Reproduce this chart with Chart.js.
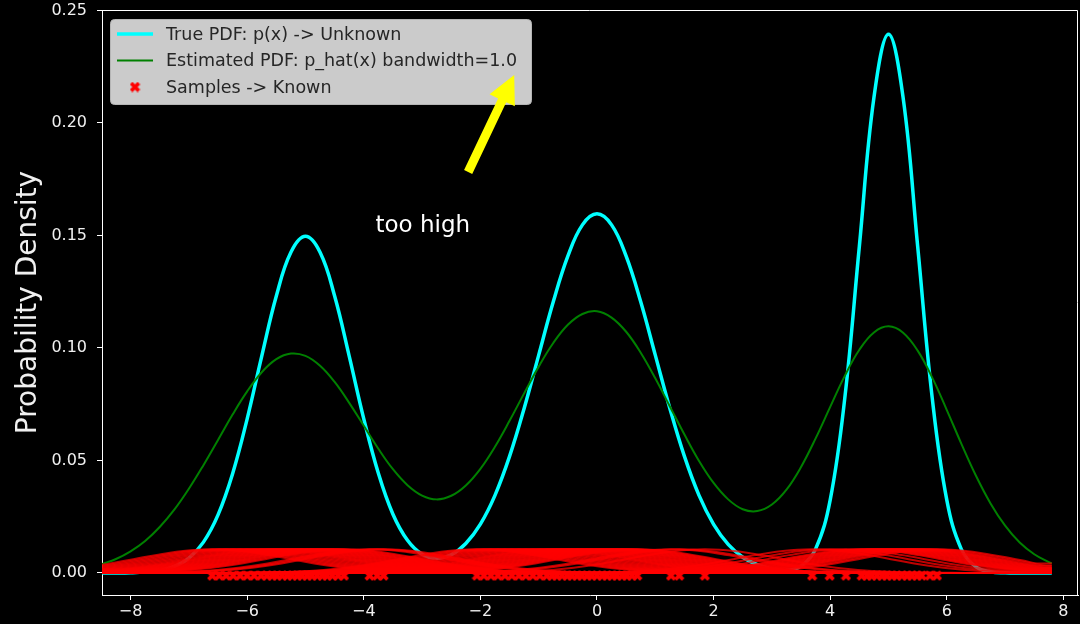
<!DOCTYPE html>
<html>
<head>
<meta charset="utf-8">
<script src="https://cdn.jsdelivr.net/npm/chart.js@4.4.1/dist/chart.umd.min.js"></script>
<style>
  html, body { margin: 0; padding: 0; background: #000; }
  #wrap { width: 1080px; height: 624px; position: relative; }
</style>
</head>
<body>
<div id="wrap"><canvas id="chart" width="1080" height="624"></canvas></div>
<script>
// Evaluation grid for the density curves
const xGrid = [
  -8.5, -8.25, -8.0, -7.75, -7.5, -7.25, -7.0, -6.75, -6.5, -6.25, -6.0, -5.75, -5.5, -5.25,
  -5.0, -4.75, -4.5, -4.25, -4.0, -3.75, -3.5, -3.25, -3.0, -2.75, -2.5, -2.25, -2.0, -1.75,
  -1.5, -1.25, -1.0, -0.75, -0.5, -0.25, 0.0, 0.25, 0.5, 0.75, 1.0, 1.25, 1.5, 1.75,
  2.0, 2.25, 2.5, 2.75, 3.0, 3.25, 3.5, 3.75, 4.0, 4.25, 4.5, 4.75, 5.0, 5.25,
  5.5, 5.75, 6.0, 6.25, 6.5, 6.75, 7.0, 7.25, 7.5, 7.75, 7.8
];

// True density p(x)
const truePdf = [
  0.0000, 0.0000, 0.0001, 0.0004, 0.0011, 0.0029, 0.0066, 0.0137, 0.0258, 0.0441, 0.0685, 0.0964, 0.1231, 0.1425,
  0.1496, 0.1425, 0.1231, 0.0964, 0.0685, 0.0443, 0.0261, 0.0145, 0.0083, 0.0065, 0.0081, 0.0131, 0.0217, 0.0345,
  0.0518, 0.0731, 0.0968, 0.1205, 0.1408, 0.1547, 0.1596, 0.1547, 0.1408, 0.1205, 0.0968, 0.0731, 0.0518, 0.0345,
  0.0216, 0.0127, 0.0070, 0.0037, 0.0019, 0.0013, 0.0030, 0.0107, 0.0325, 0.0777, 0.1452, 0.2113, 0.2394, 0.2113,
  0.1452, 0.0777, 0.0324, 0.0105, 0.0027, 0.0005, 0.0001, 0.0000, 0.0000, 0.0000, 0.0000
];

// Kernel density estimate p_hat(x), bandwidth 1.0
const estPdf = [
  0.0039, 0.0062, 0.0096, 0.0142, 0.0204, 0.0281, 0.0374, 0.0479, 0.0591, 0.0704, 0.0807, 0.0892, 0.0950, 0.0975,
  0.0965, 0.0921, 0.0849, 0.0756, 0.0654, 0.0552, 0.0461, 0.0390, 0.0344, 0.0327, 0.0343, 0.0389, 0.0463, 0.0561,
  0.0676, 0.0798, 0.0917, 0.1022, 0.1103, 0.1151, 0.1163, 0.1135, 0.1072, 0.0979, 0.0865, 0.0740, 0.0615, 0.0498,
  0.0400, 0.0327, 0.0283, 0.0275, 0.0304, 0.0370, 0.0471, 0.0598, 0.0738, 0.0876, 0.0992, 0.1069, 0.1096, 0.1068,
  0.0988, 0.0868, 0.0724, 0.0574, 0.0432, 0.0309, 0.0210, 0.0135, 0.0083, 0.0048, 0.0043
];

// Observed samples
const samples = [
  -6.60, -6.48, -6.36, -6.24, -6.12, -6.00, -5.88, -5.76, -5.66,
  -5.57, -5.49, -5.40, -5.31, -5.23, -5.14, -5.06, -4.97, -4.89, -4.80, -4.71, -4.63, -4.54, -4.44, -4.34,
  -3.90, -3.77, -3.66,
  -2.06, -1.94, -1.82, -1.70, -1.58, -1.46, -1.34, -1.22, -1.10, -0.98, -0.86,
  -0.77, -0.69, -0.60, -0.51, -0.43, -0.34, -0.26, -0.17, -0.09, 0.00, 0.09, 0.17, 0.26, 0.34, 0.43, 0.51,
  0.60, 0.69, 1.27, 1.41, 1.85,
  3.69, 3.99, 4.27,
  4.54, 4.63, 4.71, 4.80, 4.89, 4.97, 5.06, 5.14, 5.23, 5.32, 5.40, 5.49, 5.57,
  5.71, 5.83
];
const sampleLevel = -0.0012;

// Shape of one scaled kernel bump around its sample
const kernelOffsets = [
  -4.5, -4.25, -4.0, -3.75, -3.5, -3.25, -3.0, -2.75, -2.5, -2.25, -2.0, -1.75, -1.5, -1.25, -1.0, -0.75, -0.5, -0.25,
  0.0, 0.25, 0.5, 0.75, 1.0, 1.25, 1.5, 1.75, 2.0, 2.25, 2.5, 2.75, 3.0, 3.25, 3.5, 3.75, 4.0, 4.25, 4.5
];
const kernelHeights = [
  0.00003, 0.00005, 0.00009, 0.00016, 0.00028, 0.00046, 0.00073, 0.00112, 0.00166, 0.00235, 0.00321, 0.00424, 0.00539, 0.00661, 0.00781, 0.00889, 0.00975, 0.01030,
  0.01050, 0.01030, 0.00975, 0.00889, 0.00781, 0.00661, 0.00539, 0.00424, 0.00321, 0.00235, 0.00166, 0.00112, 0.00073, 0.00046, 0.00028, 0.00016, 0.00009, 0.00005, 0.00003
];

const xTicks = [-8, -6, -4, -2, 0, 2, 4, 6, 8];
const yTicks = [0.00, 0.05, 0.10, 0.15, 0.20, 0.25];

const labelTrue = 'True PDF: p(x) -> Unknown';
const labelEst = 'Estimated PDF: p_hat(x) bandwidth=1.0';
const labelSamples = 'Samples -> Known';
const noteText = 'too high';
const notePos = { x: -3.80, y: 0.1515 };
const arrowFrom = { x: -2.21, y: 0.1782 };
const arrowTo = { x: -1.42, y: 0.2213 };

// ---------------------------------------------------------------------------
const FONT = '"DejaVu Sans", "Liberation Sans", sans-serif';
const gridLo = xGrid[0];
const gridHi = xGrid[xGrid.length - 1];

function curvePoints(ys) {
  return xGrid.map((x, i) => ({ x: x, y: ys[i] }));
}

function kernelPoints(s) {
  const pts = [];
  if (s + kernelOffsets[0] > gridLo) pts.push({ x: gridLo, y: 0 });
  let clipped = false;
  for (let i = 0; i < kernelOffsets.length; i++) {
    const x = s + kernelOffsets[i];
    if (x > gridHi) { clipped = true; break; }
    pts.push({ x: x, y: kernelHeights[i] });
  }
  const last = pts[pts.length - 1];
  if (last.x < gridHi) pts.push({ x: gridHi, y: clipped ? last.y : 0 });
  return pts;
}

// Filled "X" marker
function makeXMarker(size, thick, color) {
  const c = document.createElement('canvas');
  c.width = size; c.height = size;
  const g = c.getContext('2d');
  g.strokeStyle = color;
  g.lineWidth = thick;
  g.lineCap = 'butt';
  const a = thick * 0.45, b = size - thick * 0.45;
  g.beginPath();
  g.moveTo(a, a); g.lineTo(b, b);
  g.moveTo(a, b); g.lineTo(b, a);
  g.stroke();
  return c;
}
const xMarker = makeXMarker(11, 3.6, '#ff0000');

const datasets = [];
datasets.push({
  label: labelSamples,
  type: 'scatter',
  data: samples.map(s => ({ x: s, y: sampleLevel })),
  pointStyle: xMarker,
  pointRadius: 5,
  showLine: false,
  order: 0,
  legendRole: 'marker',
  legendColor: '#ff0000'
});
samples.forEach((s, i) => {
  datasets.push({
    label: 'kernel ' + i,
    data: kernelPoints(s),
    borderColor: 'rgba(255,0,0,0.75)',
    borderWidth: 2,
    pointRadius: 0,
    fill: false,
    cubicInterpolationMode: 'monotone',
    order: 1
  });
});
datasets.push({
  label: labelEst,
  data: curvePoints(estPdf),
  borderColor: '#008000',
  borderWidth: 2,
  pointRadius: 0,
  fill: false,
  tension: 0.4,
  order: 2,
  legendRole: 'line',
  legendColor: '#008000',
  legendWidth: 2
});
datasets.push({
  label: labelTrue,
  data: curvePoints(truePdf),
  borderColor: '#00ffff',
  borderWidth: 3.5,
  pointRadius: 0,
  fill: false,
  tension: 0.4,
  order: 3,
  legendRole: 'line',
  legendColor: '#00ffff',
  legendWidth: 3.5
});

const backdrop = {
  id: 'backdrop',
  beforeDraw(chart) {
    const ctx = chart.ctx;
    ctx.save();
    ctx.fillStyle = '#000';
    ctx.fillRect(0, 0, chart.width, chart.height);
    ctx.restore();
  },
  afterDatasetsDraw(chart) {
    // top and right frame lines
    const { ctx, chartArea: a } = chart;
    ctx.save();
    ctx.strokeStyle = '#ffffff';
    ctx.lineWidth = 1;
    ctx.beginPath();
    ctx.moveTo(a.left, a.top + 0.5);
    ctx.lineTo(a.right - 0.5, a.top + 0.5);
    ctx.lineTo(a.right - 0.5, a.bottom);
    ctx.stroke();
    ctx.restore();
  }
};

const legendBox = {
  id: 'legendBox',
  afterDraw(chart) {
    const { ctx, chartArea: a } = chart;
    const order = [labelTrue, labelEst, labelSamples];
    const items = order.map(l => chart.data.datasets.find(d => d.label === l));
    const bx = a.left + 8.5, by = a.top + 9.5, bw = 421, bh = 85;
    ctx.save();
    ctx.beginPath();
    ctx.roundRect(bx, by, bw, bh, 4);
    ctx.fillStyle = '#cbcbcb';
    ctx.fill();
    ctx.strokeStyle = '#b5b5b5';
    ctx.lineWidth = 1;
    ctx.stroke();
    ctx.font = '17.5px ' + FONT;
    ctx.textBaseline = 'middle';
    ctx.textAlign = 'left';
    items.forEach((d, i) => {
      const cy = a.top + 24 + i * 26.5;
      if (d.legendRole === 'line') {
        ctx.strokeStyle = d.legendColor;
        ctx.lineWidth = d.legendWidth;
        ctx.beginPath();
        ctx.moveTo(a.left + 15, cy);
        ctx.lineTo(a.left + 51, cy);
        ctx.stroke();
      } else {
        ctx.drawImage(xMarker, a.left + 33 - 5.5, cy - 5.5);
      }
      ctx.fillStyle = '#262626';
      ctx.fillText(d.label, a.left + 64, cy + 1);
    });
    ctx.restore();
  }
};

const annotate = {
  id: 'annotate',
  afterDraw(chart) {
    const { ctx } = chart;
    const xs = chart.scales.x, ys = chart.scales.y;
    ctx.save();
    ctx.fillStyle = '#ffffff';
    ctx.font = '23px ' + FONT;
    ctx.textAlign = 'left';
    ctx.textBaseline = 'alphabetic';
    ctx.fillText(noteText, xs.getPixelForValue(notePos.x), ys.getPixelForValue(notePos.y));

    const x0 = xs.getPixelForValue(arrowFrom.x), y0 = ys.getPixelForValue(arrowFrom.y);
    const x1 = xs.getPixelForValue(arrowTo.x), y1 = ys.getPixelForValue(arrowTo.y);
    const dx = x1 - x0, dy = y1 - y0, L = Math.hypot(dx, dy);
    const ux = dx / L, uy = dy / L, nx = -uy, ny = ux;
    const headLen = 28, headW = 28, shaftW = 9;
    const hx = x1 - ux * headLen, hy = y1 - uy * headLen;
    ctx.fillStyle = '#ffff00';
    ctx.beginPath();
    ctx.moveTo(x0 + nx * shaftW / 2, y0 + ny * shaftW / 2);
    ctx.lineTo(hx + nx * shaftW / 2, hy + ny * shaftW / 2);
    ctx.lineTo(hx + nx * headW / 2, hy + ny * headW / 2);
    ctx.lineTo(x1, y1);
    ctx.lineTo(hx - nx * headW / 2, hy - ny * headW / 2);
    ctx.lineTo(hx - nx * shaftW / 2, hy - ny * shaftW / 2);
    ctx.lineTo(x0 - nx * shaftW / 2, y0 - ny * shaftW / 2);
    ctx.closePath();
    ctx.fill();
    ctx.restore();
  }
};

function fmtX(v) {
  const n = Math.round(v);
  return n < 0 ? '\u2212' + Math.abs(n) : String(n);
}

new Chart(document.getElementById('chart'), {
  type: 'line',
  data: { datasets: datasets },
  plugins: [backdrop, legendBox, annotate],
  options: {
    responsive: false,
    animation: false,
    events: [],
    layout: { autoPadding: false, padding: { top: 10, right: 2, left: 0, bottom: 0 } },
    plugins: { legend: { display: false }, tooltip: { enabled: false } },
    scales: {
      x: {
        type: 'linear',
        min: -8.49,
        max: 8.25,
        afterBuildTicks: s => { s.ticks = xTicks.map(v => ({ value: v })); },
        afterFit: s => { s.height = 29; s.paddingLeft = 0; s.paddingRight = 0; },
        ticks: {
          color: '#f0f0f0',
          font: { family: FONT, size: 16 },
          padding: 2,
          maxRotation: 0,
          autoSkip: false,
          callback: v => fmtX(v)
        },
        grid: { drawOnChartArea: false, drawTicks: true, tickLength: 5, color: '#ffffff', lineWidth: 1 },
        border: { color: '#ffffff', width: 1 }
      },
      y: {
        type: 'linear',
        min: -0.0098,
        max: 0.2502,
        afterBuildTicks: s => { s.ticks = yTicks.map(v => ({ value: v })); },
        afterFit: s => { s.width = 102; s.paddingTop = 0; s.paddingBottom = 0; },
        ticks: {
          color: '#f0f0f0',
          font: { family: FONT, size: 16 },
          padding: 10,
          autoSkip: false,
          callback: v => Number(v).toFixed(2)
        },
        grid: { drawOnChartArea: false, drawTicks: true, tickLength: 5, color: '#ffffff', lineWidth: 1 },
        border: { color: '#ffffff', width: 1 },
        title: {
          display: true,
          text: 'Probability Density',
          color: '#f0f0f0',
          font: { family: FONT, size: 28 },
          padding: { top: 12, bottom: 0 }
        }
      }
    }
  }
});
</script>
</body>
</html>
